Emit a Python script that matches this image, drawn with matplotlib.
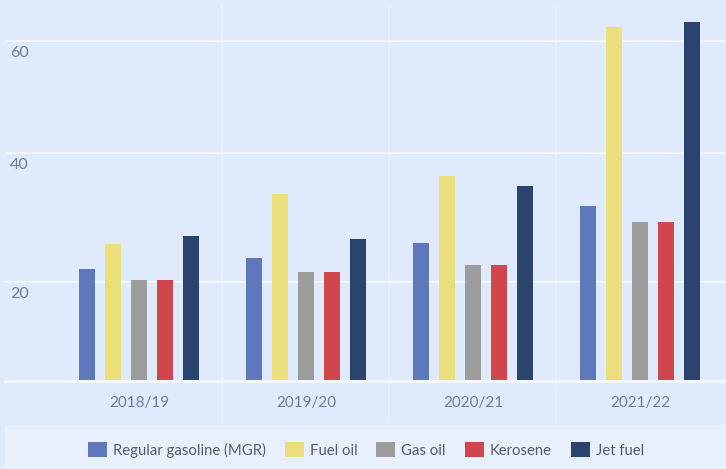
import numpy as np
import matplotlib
matplotlib.use("Agg")
import matplotlib.pyplot as plt
import matplotlib.transforms as mtransforms
from matplotlib.patches import Rectangle, Patch

plt.rcParams['font.family'] = ['Lato', 'DejaVu Sans']

categories = ["2018/19", "2019/20", "2020/21", "2021/22"]
series_names = ["Regular gasoline (MGR)", "Fuel oil", "Gas oil", "Kerosene", "Jet fuel"]
gasoline = [21.9, 23.5, 25.7, 31.4]
fuel_oil = [25.6, 33.3, 36.2, 62.8]
gas_oil = [20.3, 21.5, 22.5, 28.9]
kerosene = [20.3, 21.5, 22.5, 28.9]
jet_fuel = [26.8, 26.3, 34.6, 63.7]
y_ticks = [20, 40, 60]
colors = ["#5f78bb", "#ebdf7c", "#9a9d9b", "#cf464c", "#2b446e"]

series = [gasoline, fuel_oil, gas_oil, kerosene, jet_fuel]

W, H = 726, 469
fig = plt.figure(figsize=(W / 100, H / 100), dpi=100)
bg = "#dfeafd"
fig.patch.set_facecolor(bg)

ax = fig.add_axes([5 / W, (H - 381) / H, 1 - 5 / W, (381 - 5) / H])
ax.set_facecolor(bg)

def fwd(v):
    return np.log(np.asarray(v, dtype=float) + 100.0)

def inv(x):
    return np.exp(x) - 100.0

ax.set_yscale('function', functions=(fwd, inv))

x = np.arange(len(categories))
step = 0.156
width = 0.096
for i, (vals, c) in enumerate(zip(series, colors)):
    ax.bar(x + (i - 2) * step, vals, width=width, color=c, zorder=3)

ax.set_xlim(-0.802, 3.515)
ax.set_ylim(6.6, 67.1)

# horizontal gridlines
ax.set_yticks(y_ticks)
ax.yaxis.grid(True, color="#f4f7fe", linewidth=1.5, zorder=1)
ax.tick_params(axis='y', length=0, labelleft=False)

# tick labels below gridlines, inside plot
trans = mtransforms.blended_transform_factory(ax.transAxes, ax.transData) + \
    mtransforms.ScaledTranslation(0, -5 / 100, fig.dpi_scale_trans)
for t in y_ticks:
    ax.text(5 / (W - 5), t, str(t), transform=trans, ha='left', va='top',
            fontsize=11.5, color="#6f7ea0")

# category separators
ax.set_xticks(x)
ax.set_xticklabels(categories, fontsize=11, color="#6f7ea0")
ax.tick_params(axis='x', which='major', length=0, pad=11)
ax.set_xticks([0.5, 1.5, 2.5], minor=True)
ax.tick_params(axis='x', which='minor', length=30, width=1.3, color="#eaf1fd", direction='out')
for s in [0.5, 1.5, 2.5]:
    ax.axvline(s, color="#eaf1fd", linewidth=1.3, zorder=1)

for sp in ['top', 'left', 'right']:
    ax.spines[sp].set_visible(False)
ax.spines['bottom'].set_color("#f4f7fe")
ax.spines['bottom'].set_linewidth(2.2)
ax.spines['bottom'].set_zorder(4)

# legend box
fig.patches.append(Rectangle((5 / W, 0), 1 - 5 / W, 44 / H, transform=fig.transFigure,
                             facecolor="#e8effd", edgecolor='none', zorder=0))
handles = [Patch(facecolor=c, edgecolor='none') for c in colors]
leg = fig.legend(handles, series_names, loc='center', bbox_to_anchor=(366 / W, 19 / H),
                 ncol=5, frameon=False, fontsize=10.7, handlelength=1.28, handleheight=1.2,
                 handletextpad=0.4, columnspacing=1.28, borderaxespad=0)
for t in leg.get_texts():
    t.set_color("#585d69")

fig.savefig("out.png", dpi=100, facecolor=bg)
